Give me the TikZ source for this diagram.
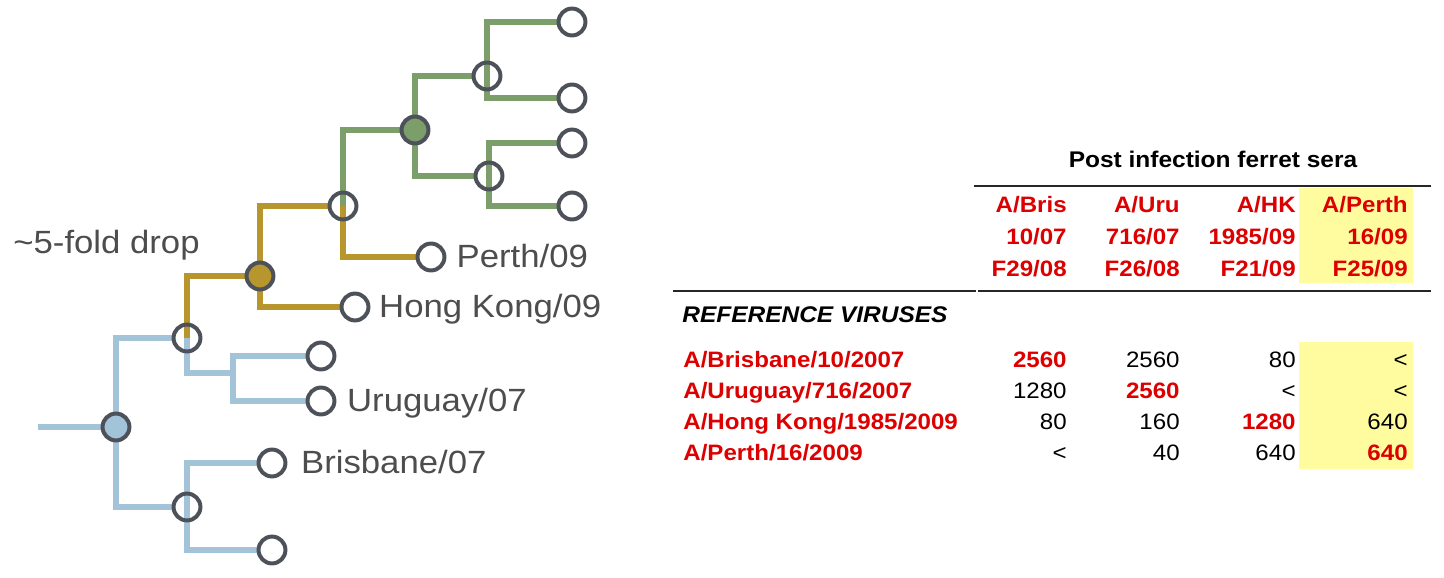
\documentclass[tikz,border=0pt]{standalone}
\usepackage{fontspec}
\setmainfont{Liberation Sans}[FakeStretch=1.08]
\usetikzlibrary{positioning, calc, backgrounds}
\definecolor{bluebranch}{RGB}{162, 195, 216}
\definecolor{goldbranch}{RGB}{184, 150, 46}
\definecolor{greenbranch}{RGB}{123, 158, 107}
\definecolor{ringgray}{RGB}{77, 81, 89}
\definecolor{labelgray}{RGB}{77, 77, 77}
\definecolor{titrered}{RGB}{220, 0, 0}
\definecolor{perthyellow}{RGB}{255, 252, 160}

\begin{document}
\begin{tikzpicture}[
    x=0.02cm, y=-0.02cm,
    branch/.style={line width=3.5pt, line join=miter},
    tip/.style={circle, draw=ringgray, line width=2.27pt, minimum size=15.3pt, inner sep=0pt},
    taxon/.style={font=\fontsize{18.3}{21}\selectfont, text=labelgray, inner sep=0pt, anchor=base west, yshift=-6.2pt},
    heading/.style={font=\fontsize{12.9}{15}\selectfont\bfseries, anchor=base, inner sep=0pt},
    colhead/.style={font=\fontsize{12.7}{15}\selectfont\bfseries, text=titrered, anchor=base east, inner sep=0pt},
    strain/.style={font=\fontsize{12.7}{15}\selectfont\bfseries, text=titrered, anchor=base west, inner sep=0pt},
    titre/.style={font=\fontsize{12.7}{15}\selectfont, anchor=base east, inner sep=0pt},
    homol/.style={titre, font=\fontsize{12.7}{15}\selectfont\bfseries, text=titrered},
    rule/.style={line width=1.7pt, color=black!85}
]
    \useasboundingbox (0,0) rectangle (1444,578);

    % Tree nodes
    \coordinate (stem) at (38,427);
    \node[tip, fill=bluebranch] (root) at (116,427) {};
    \node[tip] (upper) at (187,338) {};
    \node[tip] (lower) at (187,507) {};
    \coordinate (uru) at (233,373);
    \node[tip, fill=goldbranch] (gold) at (260,276) {};
    \node[tip] (split) at (343,206) {};
    \node[tip, fill=greenbranch] (green) at (415,130) {};
    \node[tip] (greenA) at (487,76) {};
    \node[tip] (greenB) at (489,176) {};

    % Leaves
    \node[tip] (uruTop) at (321,356) {};
    \node[tip] (uruguay) at (321,401) {};
    \node[tip] (brisbane) at (272,463) {};
    \node[tip] (brisBot) at (272,550) {};
    \node[tip] (hongkong) at (355,307) {};
    \node[tip] (perth) at (431,257) {};
    \node[tip] (gA1) at (572,22) {};
    \node[tip] (gA2) at (572,98) {};
    \node[tip] (gB1) at (572,143) {};
    \node[tip] (gB2) at (572,206) {};

    % Branches
    \begin{scope}[on background layer]
        \draw[branch, bluebranch] (stem) -- (root.center);
        \draw[branch, bluebranch] (upper.west) -| (root.center) |- (lower.west);
        \draw[branch, goldbranch] (upper.center) |- (gold.west);
        \draw[branch, bluebranch] (upper.center) |- (uru);
        \draw[branch, bluebranch] (uruTop.west) -| (uru) |- (uruguay.west);
        \draw[branch, bluebranch] (brisbane.west) -| (lower.center) |- (brisBot.west);
        \draw[branch, goldbranch] (split.west) -| (gold.center) |- (hongkong.west);
        \draw[branch, greenbranch] (split.center) |- (green.west);
        \draw[branch, goldbranch] (split.center) |- (perth.west);
        \draw[branch, greenbranch] (greenA.west) -| (green.center) |- (greenB.west);
        \draw[branch, greenbranch] (gA1.west) -| (greenA.center) |- (gA2.west);
        \draw[branch, greenbranch] (gB1.west) -| (greenB.center) |- (gB2.west);
    \end{scope}

    % Labels
    \node[taxon, right=5.6pt of perth, anchor=base west] (perthlab) {Perth/09};
    \node[taxon, right=4.8pt of hongkong, anchor=base west] (hklab) {Hong Kong/09};
    \node[taxon, right=5.9pt of uruguay, anchor=base west] (urulab) {Uruguay/07};
    \node[taxon, right=7.6pt of brisbane, anchor=base west] (brislab) {Brisbane/07};
    \node[taxon, yshift=6.2pt] (drop) at (13,253) {\textasciitilde 5-fold drop};

    % Highlight
    \fill[perthyellow] (1299,188) rectangle (1413,283);
    \fill[perthyellow] (1299,342) rectangle (1413,469);

    % Table header
    \node[heading] (title) at (1213,167) {Post infection ferret sera};
    \draw[rule] (974,186) -- (1431,186);

    \node[colhead] (hBris) at (1067,212) {A/Bris};
    \node[colhead] (hUru) at (1180,212) {A/Uru};
    \node[colhead] (hHK) at (1296,212) {A/HK};
    \node[colhead] (hPerth) at (1408,212) {A/Perth};

    \node[colhead] at (1067,244) {10/07};
    \node[colhead] at (1180,244) {716/07};
    \node[colhead] at (1296,244) {1985/09};
    \node[colhead] at (1408,244) {16/09};

    \node[colhead] at (1067,276) {F29/08};
    \node[colhead] at (1180,276) {F26/08};
    \node[colhead] at (1296,276) {F21/09};
    \node[colhead] at (1408,276) {F25/09};

    \draw[rule] (673,291) -- (976,291);
    \draw[rule] (978,291) -- (1431,291);

    % Reference viruses
    \node[heading, anchor=base west, font=\fontsize{12.9}{15}\selectfont\bfseries\itshape] (refs) at (682,322) {REFERENCE VIRUSES};

    \node[strain] (rBris) at (683,367) {A/Brisbane/10/2007};
    \node[homol] at (1067,367) {2560};
    \node[titre] at (1180,367) {2560};
    \node[titre] at (1296,367) {80};
    \node[titre] at (1408,367) {<};

    \node[strain] (rUru) at (683,398) {A/Uruguay/716/2007};
    \node[titre] at (1067,398) {1280};
    \node[homol] at (1180,398) {2560};
    \node[titre] at (1296,398) {<};
    \node[titre] at (1408,398) {<};

    \node[strain] (rHK) at (683,429) {A/Hong Kong/1985/2009};
    \node[titre] at (1067,429) {80};
    \node[titre] at (1180,429) {160};
    \node[homol] at (1296,429) {1280};
    \node[titre] at (1408,429) {640};

    \node[strain] (rPerth) at (683,460) {A/Perth/16/2009};
    \node[titre] at (1067,460) {<};
    \node[titre] at (1180,460) {40};
    \node[titre] at (1296,460) {640};
    \node[homol] at (1408,460) {640};

\end{tikzpicture}
\end{document}
